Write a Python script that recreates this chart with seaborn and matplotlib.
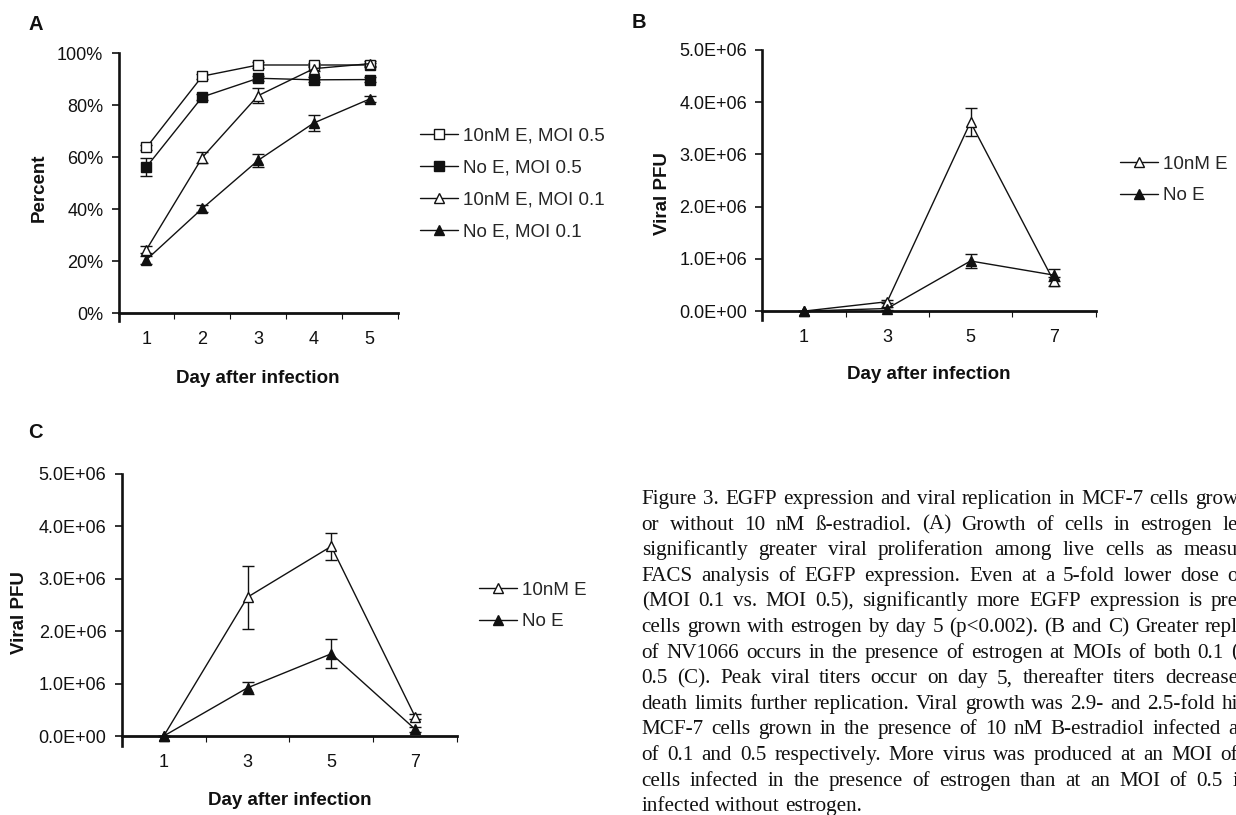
import seaborn as sns
import matplotlib.pyplot as plt
from matplotlib.ticker import FuncFormatter

# ---- data ----
# Panel A: percent of EGFP positive cells
days_a = [1, 2, 3, 4, 5]
a_labels = ["10nM E, MOI 0.5", "No E, MOI 0.5", "10nM E, MOI 0.1", "No E, MOI 0.1"]
a_e05 = [63.8, 91.2, 95.5, 95.5, 95.5]
a_e05_err = [1.0, 1.0, 1.0, 0.8, 0.8]
a_noe05 = [56.3, 83.2, 90.4, 89.8, 89.9]
a_noe05_err = [3.5, 1.0, 1.0, 1.0, 1.0]
a_e01 = [24.5, 59.9, 83.7, 94.1, 96.0]
a_e01_err = [1.5, 2.0, 3.0, 1.0, 1.0]
a_noe01 = [20.6, 40.3, 58.8, 73.2, 82.4]
a_noe01_err = [1.5, 1.5, 2.5, 3.0, 1.0]

# Panels B and C: viral PFU
days_bc = [1, 3, 5, 7]
bc_labels = ["10nM E", "No E"]
b_e = [0.0, 0.18e6, 3.62e6, 0.57e6]
b_e_err = [0.0, 0.03e6, 0.27e6, 0.08e6]
b_noe = [0.0, 0.05e6, 0.96e6, 0.69e6]
b_noe_err = [0.0, 0.02e6, 0.13e6, 0.11e6]
c_e = [0.0, 2.65e6, 3.62e6, 0.37e6]
c_e_err = [0.0, 0.60e6, 0.26e6, 0.05e6]
c_noe = [0.0, 0.92e6, 1.57e6, 0.13e6]
c_noe_err = [0.0, 0.12e6, 0.28e6, 0.05e6]

caption_lines = [
    "Figure 3. EGFP expression and viral replication in MCF-7 cells grow",
    "or without 10 nM \u00df-estradiol. (A) Growth of cells in estrogen le",
    "significantly greater viral proliferation among live cells as measu",
    "FACS analysis of EGFP expression. Even at a 5-fold lower dose o",
    "(MOI 0.1 vs. MOI 0.5), significantly more EGFP expression is pre",
    "cells grown with estrogen by day 5 (p<0.002). (B and C) Greater repl",
    "of NV1066 occurs in the presence of estrogen at MOIs of both 0.1 (",
    "0.5 (C). Peak viral titers occur on day 5, thereafter titers decrease",
    "death limits further replication. Viral growth was 2.9- and 2.5-fold hi",
    "MCF-7 cells grown in the presence of 10 nM B-estradiol infected a",
    "of 0.1 and 0.5 respectively. More virus was produced at an MOI of",
    "cells infected in the presence of estrogen than at an MOI of 0.5 i",
    "infected without estrogen.",
]

W, H = 1236, 815
INK = "#111111"

sns.set_theme(style="white")
plt.rcParams["font.family"] = ["Liberation Sans", "DejaVu Sans"]

fig = plt.figure(figsize=(W / 100, H / 100), dpi=100)


def add_axes_px(left, right, top, bottom):
    return fig.add_axes([left / W, 1 - bottom / H, (right - left) / W, (bottom - top) / H])


def draw_series(ax, x, y, err, label, marker, face):
    ax.errorbar(x, y, yerr=err, fmt="none", ecolor=INK, elinewidth=1.0,
                capsize=4.5, capthick=1.0, zorder=1.5)
    sns.lineplot(x=x, y=y, ax=ax, color=INK, lw=1.0, marker=marker, markersize=7.5,
                 markerfacecolor=face, markeredgecolor=INK, markeredgewidth=1.0,
                 label=label, errorbar=None)


def style_axes(ax, days, xlim, ylim, yticks, fmt, xlab, ylab, ylab_pos, xlab_pos):
    ax.set_xlim(*xlim)
    ax.set_ylim(*ylim)
    for s in ["top", "right"]:
        ax.spines[s].set_visible(False)
    ax.spines["left"].set_linewidth(1.9)
    ax.spines["bottom"].set_linewidth(2.0)
    ax.spines["left"].set_color(INK)
    ax.spines["bottom"].set_color(INK)
    ax.spines["bottom"].set_position(("data", 0))
    ax.set_xticks(days)
    step = days[1] - days[0]
    bounds = [d - step / 2 for d in days] + [days[-1] + step / 2]
    ax.set_xticks(bounds, minor=True)
    ax.set_yticks(yticks)
    ax.yaxis.set_major_formatter(FuncFormatter(fmt))
    ax.tick_params(axis="x", which="major", bottom=True, length=0, pad=13,
                   labelsize=13, labelcolor=INK)
    ax.tick_params(axis="x", which="minor", bottom=True, length=4, width=0.8,
                   direction="out", color=INK)
    ax.tick_params(axis="y", which="major", left=True, length=5, width=1.2,
                   direction="out", pad=6, labelsize=13, labelcolor=INK, color=INK)
    ax.set_xlabel(xlab, fontsize=13.5, fontweight="bold", color=INK)
    ax.set_ylabel(ylab, fontsize=13.5, fontweight="bold", color=INK)
    ax.yaxis.set_label_coords(*ylab_pos)
    ax.xaxis.set_label_coords(*xlab_pos)
    ax.set_facecolor("white")


def put_legend(ax, x_px, y_px):
    handles, labels = ax.get_legend_handles_labels()
    ax.legend(handles, labels, loc="center left",
              bbox_to_anchor=(x_px / W, 1 - y_px / H), bbox_transform=fig.transFigure,
              frameon=False, fontsize=13.5, handlelength=2.0, handletextpad=0.3,
              labelspacing=0.78, borderpad=0, borderaxespad=0, numpoints=1)


pct = lambda v, _: f"{v:.0f}%"
sci = lambda v, _: f"{v:.1E}"

# ---- panel A ----
ax_a = add_axes_px(118.6, 397.5, 53.3, 321.3)
draw_series(ax_a, days_a, a_e05, a_e05_err, a_labels[0], "s", "white")
draw_series(ax_a, days_a, a_noe05, a_noe05_err, a_labels[1], "s", INK)
draw_series(ax_a, days_a, a_e01, a_e01_err, a_labels[2], "^", "white")
draw_series(ax_a, days_a, a_noe01, a_noe01_err, a_labels[3], "^", INK)
style_axes(ax_a, days_a, (0.5, 5.5), (-3.1, 100), [0, 20, 40, 60, 80, 100], pct,
           "Day after infection", "Percent", (-0.255, 0.5), (0.5, -0.18))
put_legend(ax_a, 420, 184)

# ---- panel B ----
ax_b = add_axes_px(762.2, 1095.5, 50, 320)
draw_series(ax_b, days_bc, b_e, b_e_err, bc_labels[0], "^", "white")
draw_series(ax_b, days_bc, b_noe, b_noe_err, bc_labels[1], "^", INK)
style_axes(ax_b, days_bc, (0, 8), (-0.17e6, 5e6), [0, 1e6, 2e6, 3e6, 4e6, 5e6], sci,
           "Day after infection", "Viral PFU", (-0.275, 0.47), (0.5, -0.17))
put_legend(ax_b, 1120, 180)

# ---- panel C ----
ax_c = add_axes_px(121.8, 457, 474, 746)
draw_series(ax_c, days_bc, c_e, c_e_err, bc_labels[0], "^", "white")
draw_series(ax_c, days_bc, c_noe, c_noe_err, bc_labels[1], "^", INK)
style_axes(ax_c, days_bc, (0, 8), (-0.19e6, 5e6), [0, 1e6, 2e6, 3e6, 4e6, 5e6], sci,
           "Day after infection", "Viral PFU", (-0.28, 0.49), (0.5, -0.17))
put_legend(ax_c, 479, 606)

# panel letters
for letter, x, y in [("A", 28, 29.5), ("B", 632, 28), ("C", 28, 438)]:
    fig.text(x / W, 1 - y / H, letter, fontsize=14.5, fontweight="bold", color=INK,
             va="baseline", ha="left")

# ---- justified caption, cut by the right edge like the scan ----
renderer = fig.canvas.get_renderer()
cap_left, cap_right = 641.7, 1238
cap_size = 15.2
space_px = 0.25 * cap_size * 100 / 72
for i, line in enumerate(caption_lines):
    y = 1 - (504 + i * 25.6) / H
    words = line.split(" ")
    texts = [fig.text(0, y, w, family="Liberation Serif", fontsize=cap_size, color=INK,
                      va="baseline", ha="left") for w in words]
    widths = [t.get_window_extent(renderer).width for t in texts]
    if i == len(caption_lines) - 1:
        gap = space_px
    else:
        gap = max((cap_right - cap_left - sum(widths)) / (len(words) - 1), 3.5)
    x = cap_left
    for t, w in zip(texts, widths):
        t.set_x(x / W)
        x += w + gap

fig.savefig("out.png", dpi=100, facecolor="white")
